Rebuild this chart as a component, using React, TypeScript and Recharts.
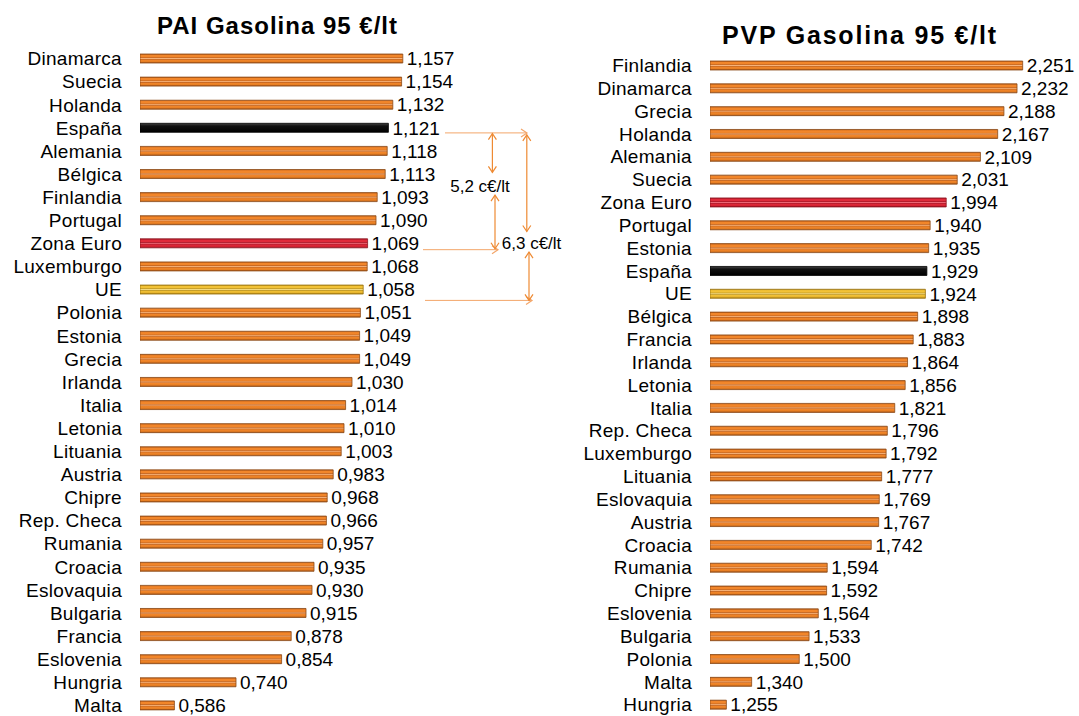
import { BarChart, Bar, XAxis, YAxis, Cell, LabelList, ReferenceLine, ReferenceDot } from "recharts";

const FONT = '"Liberation Sans", Arial, sans-serif';

const paiPaises = [
  "Dinamarca", "Suecia", "Holanda", "España", "Alemania", "Bélgica", "Finlandia", "Portugal",
  "Zona Euro", "Luxemburgo", "UE", "Polonia", "Estonia", "Grecia", "Irlanda", "Italia", "Letonia",
  "Lituania", "Austria", "Chipre", "Rep. Checa", "Rumania", "Croacia", "Eslovaquia", "Bulgaria",
  "Francia", "Eslovenia", "Hungria", "Malta",
];
const paiValores = [
  1.157, 1.154, 1.132, 1.121, 1.118, 1.113, 1.093, 1.09, 1.069, 1.068, 1.058, 1.051, 1.049, 1.049,
  1.03, 1.014, 1.01, 1.003, 0.983, 0.968, 0.966, 0.957, 0.935, 0.93, 0.915, 0.878, 0.854, 0.74, 0.586,
];

const pvpPaises = [
  "Finlandia", "Dinamarca", "Grecia", "Holanda", "Alemania", "Suecia", "Zona Euro", "Portugal",
  "Estonia", "España", "UE", "Bélgica", "Francia", "Irlanda", "Letonia", "Italia", "Rep. Checa",
  "Luxemburgo", "Lituania", "Eslovaquia", "Austria", "Croacia", "Rumania", "Chipre", "Eslovenia",
  "Bulgaria", "Polonia", "Malta", "Hungria",
];
const pvpValores = [
  2.251, 2.232, 2.188, 2.167, 2.109, 2.031, 1.994, 1.94, 1.935, 1.929, 1.924, 1.898, 1.883, 1.864,
  1.856, 1.821, 1.796, 1.792, 1.777, 1.769, 1.767, 1.742, 1.594, 1.592, 1.564, 1.533, 1.5, 1.34, 1.255,
];

const destacados: Record<string, string> = { "España": "negro", "Zona Euro": "rojo", "UE": "amarillo" };
const bordes: Record<string, string> = { naranja: "#8c4a16", negro: "#000", rojo: "#8a1420", amarillo: "#9a7410" };

// cotas del PAI: x en €/lt, y en filas (0 = arriba)
const flechasH = [
  { x1: 1.2625, x2: 1.4675, y: 3.59 },
  { x1: 1.2075, x2: 1.395, y: 8.47 },
  { x1: 1.2125, x2: 1.48, y: 10.59 },
];
const flechasV = [
  { x: 1.381, y1: 3.62, y2: 5.24 },
  { x: 1.3875, y1: 6.19, y2: 8.43 },
  { x: 1.467, y1: 3.67, y2: 7.71 },
  { x: 1.4725, y1: 8.57, y2: 10.59 },
];
const cotas = [
  { x: 1.35, y: 5.8, texto: "5,2 c€/lt" },
  { x: 1.479, y: 8.18, texto: "6,3 c€/lt" },
];

const fmt = (v: any) => Number(v).toFixed(3).replace(".", ",");

const punta = (x: number, y: number, dx: number, dy: number, color: string) => {
  const s = 6, w = 4;
  const bx = x - dx * s, by = y - dy * s;
  return (
    <polyline
      points={`${bx - dy * w},${by + dx * w} ${x},${y} ${bx + dy * w},${by - dx * w}`}
      fill="none"
      stroke={color}
      strokeWidth={1.2}
    />
  );
};

const lineaH = (p: any) => (
  <g>
    <line x1={p.x1} y1={p.y1} x2={p.x2} y2={p.y2} stroke="#f3a66a" strokeWidth={1} />
    {punta(p.x2, p.y2, 1, 0, "#f3a66a")}
  </g>
);

const lineaV = (p: any) => {
  const c = "#ee8a33";
  const dir = p.y2 > p.y1 ? 1 : -1;
  return (
    <g>
      <line x1={p.x1} y1={p.y1} x2={p.x2} y2={p.y2} stroke={c} strokeWidth={1.2} />
      {punta(p.x1, p.y1, 0, -dir, c)}
      {punta(p.x2, p.y2, 0, dir, c)}
    </g>
  );
};

function Panel({ paises, valores, dominio, ancho, margen, anotar }: any) {
  const datos = paises.map((pais: string, i: number) => ({ pais, valor: valores[i] }));
  return (
    <BarChart width={ancho} height={720} data={datos} layout="vertical" margin={margen}>
      <XAxis type="number" domain={dominio} hide allowDataOverflow />
      <YAxis
        type="category"
        dataKey="pais"
        width={140}
        axisLine={false}
        tickLine={false}
        tickMargin={12}
        interval={0}
        tick={{ fill: "#000", fontSize: 19, fontFamily: FONT, letterSpacing: 0.3 }}
      />
      <YAxis yAxisId="ann" type="number" domain={[0, 29]} hide allowDataOverflow />
      <Bar dataKey="valor" barSize={9} isAnimationActive={false}>
        {datos.map((d: any) => {
          const t = destacados[d.pais] || "naranja";
          return <Cell key={d.pais} fill={`url(#g-${t})`} stroke={bordes[t]} strokeWidth={0.8} />;
        })}
        <LabelList dataKey="valor" position="right" offset={4} formatter={fmt} fill="#000" fontSize={19} fontFamily={FONT} />
      </Bar>
      {anotar &&
        flechasH.map((a, i) => (
          <ReferenceLine
            key={"h" + i}
            yAxisId="ann"
            ifOverflow="visible"
            segment={[{ x: a.x1, y: a.y }, { x: a.x2, y: a.y }]}
            shape={lineaH}
          />
        ))}
      {anotar &&
        flechasV.map((a, i) => (
          <ReferenceLine
            key={"v" + i}
            yAxisId="ann"
            ifOverflow="visible"
            segment={[{ x: a.x, y: a.y1 }, { x: a.x, y: a.y2 }]}
            shape={lineaV}
          />
        ))}
      {anotar &&
        cotas.map((c, i) => (
          <ReferenceDot
            key={"c" + i}
            yAxisId="ann"
            x={c.x}
            y={c.y}
            r={0}
            fill="none"
            stroke="none"
            ifOverflow="visible"
            label={{ value: c.texto, position: "center", fill: "#000", fontSize: 17, fontFamily: FONT }}
          />
        ))}
    </BarChart>
  );
}

const Grad = ({ id, c }: { id: string; c: string[] }) => (
  <linearGradient id={id} x1="0" y1="0" x2="0" y2="1">
    <stop offset="0" stopColor={c[0]} />
    <stop offset="0.15" stopColor={c[1]} />
    <stop offset="0.33" stopColor={c[1]} />
    <stop offset="0.4" stopColor={c[2]} />
    <stop offset="0.5" stopColor={c[3]} />
    <stop offset="0.6" stopColor={c[2]} />
    <stop offset="0.67" stopColor={c[1]} />
    <stop offset="0.85" stopColor={c[4]} />
    <stop offset="1" stopColor={c[5]} />
  </linearGradient>
);

export default function App() {
  const titulo = { position: "absolute" as const, fontFamily: FONT, fontWeight: 700, color: "#000", whiteSpace: "nowrap" as const };
  return (
    <div style={{ position: "absolute", left: 0, top: 0, width: 1079, height: 716, overflow: "hidden", background: "#fff" }}>
      <svg width={0} height={0} style={{ position: "absolute" }}>
        <defs>
          <Grad id="g-naranja" c={["#b85a18", "#f2862a", "#c86a24", "#f6b27a", "#e67e22", "#a05018"]} />
          <Grad id="g-rojo" c={["#a81626", "#e02a3a", "#b01c2c", "#ee6a78", "#d42232", "#901020"]} />
          <Grad id="g-amarillo" c={["#b88c18", "#f2c236", "#c09a28", "#f6dc84", "#e6b42c", "#a07810"]} />
          <linearGradient id="g-negro" x1="0" y1="0" x2="0" y2="1">
            <stop offset="0" stopColor="#444" />
            <stop offset="0.3" stopColor="#111" />
            <stop offset="1" stopColor="#000" />
          </linearGradient>
        </defs>
      </svg>
      <div style={{ ...titulo, left: 157, top: 14, fontSize: 24, lineHeight: "24px", letterSpacing: 1 }}>
        PAI Gasolina 95 €/lt
      </div>
      <div style={{ ...titulo, left: 722, top: 23, fontSize: 25, lineHeight: "25px", letterSpacing: 1.8 }}>
        PVP Gasolina 95 €/lt
      </div>
      <div style={{ position: "absolute", left: 0, top: 0 }}>
        <Panel
          paises={paiPaises}
          valores={paiValores}
          dominio={[0.5, 1.5]}
          ancho={570}
          margen={{ top: 47, right: 30, bottom: 3, left: 0 }}
          anotar
        />
      </div>
      <div style={{ position: "absolute", left: 570, top: 0 }}>
        <Panel
          paises={pvpPaises}
          valores={pvpValores}
          dominio={[1.2, 2.4]}
          ancho={509}
          margen={{ top: 54, right: 12, bottom: 4, left: 0 }}
          anotar={false}
        />
      </div>
    </div>
  );
}
